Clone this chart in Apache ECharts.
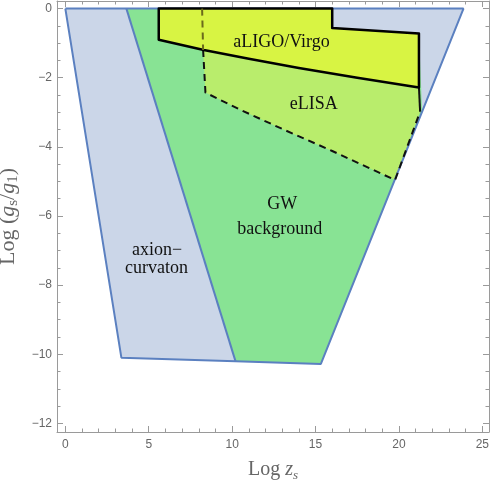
<!DOCTYPE html>
<html>
<head>
<meta charset="utf-8">
<style>
  html, body { margin: 0; padding: 0; background: #fff; }
  #chart { width: 491px; height: 485px; }
</style>
<script src="https://cdn.jsdelivr.net/npm/echarts@6/dist/echarts.min.js"></script>
</head>
<body>
<div id="chart"></div>
<script>
// Region vertices as [Log z_s, Log (g_s/g_1)]
var axionCurvaton = [[0, 0], [3.36, -10.1], [10.2, -10.2], [15.32, -10.28], [23.87, 0]];
var gwBackground = [[3.66, 0], [10.2, -10.2], [15.32, -10.28], [21.39, -2.98], [21.2, -0.72], [16, -0.56], [16, 0]];
var gwLeftEdge = [[3.66, 0], [10.2, -10.2]];
var elisaBoundary = [[8.2, 0], [8.26, -1.2], [8.4, -2.43], [10.5, -2.93], [13, -3.48], [16, -4.12], [19.77, -4.96], [21.27, -2.98]];
var elisaInside = [[8.2, 0], [8.26, -1.2]];
var elisaEdge = [[21.27, -2.98], [21.2, -2.28]];
var ligoVirgo = [[5.6, 0], [16, 0], [16, -0.56], [21.2, -0.72], [21.2, -2.28], [17.5, -2.0], [14, -1.72], [11, -1.45], [8.3, -1.2], [5.6, -0.9]];

// Ticks
var xMajor = [0, 5, 10, 15, 20, 25];
var xMinor = [];
for (var i = 0; i <= 25; i++) xMinor.push(i);
var yMajor = [0, -2, -4, -6, -8, -10, -12];
var yMinor = [];
for (var j = 0; j <= 24; j++) yMinor.push(-j / 2);

// Region labels [x, y, text]
var regionLabels = [
    [12.96, -0.98, 'aLIGO/Virgo'],
    [14.9, -2.77, 'eLISA'],
    [13.0, -5.66, 'GW'],
    [12.86, -6.38, 'background'],
    [5.5, -6.98, 'axion\u2212'],
    [5.46, -7.52, 'curvaton']
];

var chart = echarts.init(document.getElementById('chart'));

var axisGray = '#9a9a9a';
var labelGray = '#666';

function minusSign(v) {
    return String(v).replace('-', '\u2212');
}

function xAxisDef(pos, ticks, len, showLine, showLabel) {
    return {
        type: 'value', min: -0.5, max: 25.4, position: pos,
        axisLine: { show: showLine, onZero: false, lineStyle: { color: axisGray } },
        axisTick: { show: true, inside: true, length: len, customValues: ticks, lineStyle: { color: axisGray } },
        axisLabel: { show: showLabel, customValues: ticks, color: labelGray, fontSize: 12, margin: 7,
                     fontFamily: 'Liberation Sans, Arial, sans-serif', formatter: minusSign },
        splitLine: { show: false }
    };
}

function yAxisDef(pos, ticks, len, showLine, showLabel) {
    return {
        type: 'value', min: -12.25, max: 0.22, position: pos,
        axisLine: { show: showLine, onZero: false, lineStyle: { color: axisGray } },
        axisTick: { show: true, inside: true, length: len, customValues: ticks, lineStyle: { color: axisGray } },
        axisLabel: { show: showLabel, customValues: ticks, color: labelGray, fontSize: 12, margin: 5,
                     fontFamily: 'Liberation Sans, Arial, sans-serif', formatter: minusSign },
        splitLine: { show: false }
    };
}

function polygonSeries(points, fill, stroke, width, z) {
    return {
        type: 'custom',
        coordinateSystem: 'cartesian2d',
        xAxisIndex: 0, yAxisIndex: 0,
        z: z,
        silent: true,
        data: points,
        renderItem: function (params, api) {
            if (params.dataIndex !== 0) return;
            var pts = points.map(function (p) { return api.coord(p); });
            return {
                type: 'polygon',
                shape: { points: pts },
                style: { fill: fill, stroke: stroke, lineWidth: width, lineJoin: 'round' }
            };
        }
    };
}

function lineSeries(points, color, width, type, z) {
    return {
        type: 'line',
        xAxisIndex: 0, yAxisIndex: 0,
        z: z,
        silent: true,
        data: points,
        showSymbol: false,
        symbol: 'none',
        lineStyle: { color: color, width: width, type: type },
        animation: false
    };
}

var xName = xAxisDef('bottom', xMajor, 6, true, true);
xName.name = 'Log {i|z}{sub|s}';
xName.nameLocation = 'middle';
xName.nameGap = 26;
xName.nameTextStyle = {
    color: '#666', fontSize: 20, fontFamily: 'Liberation Serif, Times New Roman, serif', lineHeight: 24,
    rich: {
        i: { fontSize: 20, fontStyle: 'italic', fontFamily: 'Liberation Serif, serif', color: '#666', lineHeight: 24 },
        sub: { fontSize: 13, fontStyle: 'italic', fontFamily: 'Liberation Serif, serif', color: '#666', lineHeight: 13, verticalAlign: 'bottom' }
    }
};

var yName = yAxisDef('left', yMajor, 6, true, true);
yName.name = 'Log ({i|g}{sub|s}/{i|g}{sub|1})';
yName.nameLocation = 'middle';
yName.nameRotate = 90;
yName.nameGap = 34;
yName.nameTextStyle = {
    color: '#666', fontSize: 22, fontFamily: 'Liberation Serif, Times New Roman, serif', lineHeight: 26,
    rich: {
        i: { fontSize: 22, fontStyle: 'italic', fontFamily: 'Liberation Serif, serif', color: '#666', lineHeight: 26 },
        sub: { fontSize: 15, fontFamily: 'Liberation Serif, serif', color: '#666', lineHeight: 15, verticalAlign: 'bottom' }
    }
};

chart.setOption({
    animation: false,
    grid: { left: 57, right: 2, top: 1, bottom: 53, containLabel: false, outerBoundsMode: 'none' },
    xAxis: [
        xName,
        xAxisDef('bottom', xMinor, 3.5, false, false),
        xAxisDef('top', xMajor, 6, true, false),
        xAxisDef('top', xMinor, 3.5, false, false)
    ],
    yAxis: [
        yName,
        yAxisDef('left', yMinor, 3.5, false, false),
        yAxisDef('right', yMajor, 6, true, false),
        yAxisDef('right', yMinor, 3.5, false, false)
    ],
    series: [
        polygonSeries(axionCurvaton, '#cbd6e8', null, 0, 1),
        polygonSeries(gwBackground, '#88e394', null, 0, 2),
        polygonSeries(elisaBoundary.concat([[21.2, -0.72], [16, -0.56], [16, 0]]), '#b9ed6c', null, 0, 3),
        lineSeries(axionCurvaton.concat([axionCurvaton[0]]), '#5b80c0', 2, 'solid', 4),
        lineSeries(gwLeftEdge, '#5b80c0', 2, 'solid', 4),
        lineSeries(elisaBoundary.slice(1), '#111', 2, [7, 5], 5),
        lineSeries(elisaEdge, '#111', 2, 'solid', 5),
        polygonSeries(ligoVirgo, '#d8f443', '#000', 2.5, 6),
        lineSeries(elisaInside, '#6b6a1c', 2, [7, 5], 7),
        {
            type: 'custom',
            coordinateSystem: 'cartesian2d',
            z: 8,
            silent: true,
            data: regionLabels,
            renderItem: function (params, api) {
                var pt = api.coord([api.value(0), api.value(1)]);
                return {
                    type: 'text',
                    x: pt[0], y: pt[1],
                    style: {
                        text: regionLabels[params.dataIndex][2],
                        fill: '#111',
                        font: '18px "Liberation Serif", "Times New Roman", serif',
                        align: 'center',
                        verticalAlign: 'middle'
                    }
                };
            }
        }
    ]
});
</script>
</body>
</html>
